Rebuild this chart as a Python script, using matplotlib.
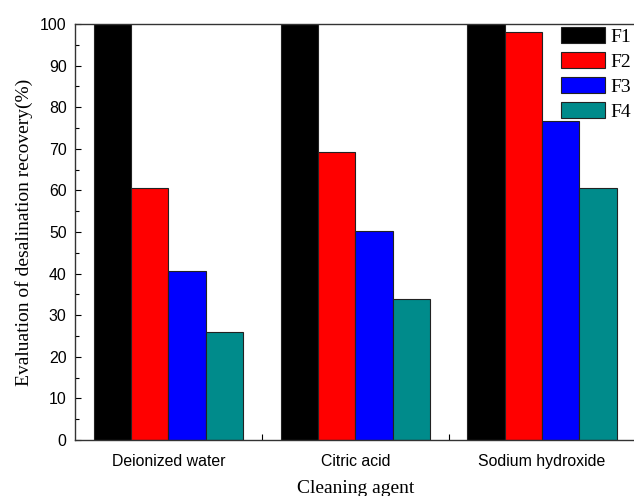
import matplotlib
matplotlib.use("Agg")
import matplotlib.pyplot as plt
import numpy as np
from matplotlib.ticker import MultipleLocator, FixedLocator

categories = ["Deionized water", "Citric acid", "Sodium hydroxide"]
series_names = ["F1", "F2", "F3", "F4"]
F1 = [100, 100, 100]
F2 = [60.6, 69.3, 98.0]
F3 = [40.6, 50.2, 76.7]
F4 = [25.9, 33.9, 60.6]
colors = ["#000000", "#FF0000", "#0000FF", "#008B8B"]

fig = plt.figure(figsize=(6.34, 4.96), dpi=100)
ax = fig.add_axes([0.1183, 0.1129, 0.8841, 0.8387])

x = np.arange(1, len(categories) + 1)
w = 0.2
for i, (name, vals) in enumerate(zip(series_names, [F1, F2, F3, F4])):
    ax.bar(x + (i - 1.5) * w, vals, width=w, color=colors[i],
           edgecolor="#222222", linewidth=0.8, label=name)

ax.set_xlim(0.5, 3.5)
ax.set_ylim(0, 100)
ax.set_xticks(x)
ax.set_xticklabels(categories, fontfamily="Liberation Sans", fontsize=11.4)
ax.xaxis.set_minor_locator(FixedLocator([1.5, 2.5]))
ax.tick_params(axis="x", which="major", length=0, pad=10)
ax.tick_params(axis="x", which="minor", direction="in", length=4, width=0.8)
ax.yaxis.set_major_locator(MultipleLocator(10))
ax.yaxis.set_minor_locator(MultipleLocator(5))
ax.tick_params(axis="y", which="major", direction="in", length=4, width=0.8, pad=6)
ax.tick_params(axis="y", which="minor", direction="in", length=3, width=0.8)
for lab in ax.get_yticklabels():
    lab.set_fontfamily("Liberation Sans")
    lab.set_fontsize(11.4)

for s in ax.spines.values():
    s.set_color("#333333")
    s.set_linewidth(1.0)
ax.spines["right"].set_visible(False)

ax.set_ylabel("Evaluation of desalination recovery(%)", fontfamily="Liberation Serif",
              fontsize=14, labelpad=5)
ax.set_xlabel("Cleaning agent", fontfamily="Liberation Serif", fontsize=14, labelpad=8)

ax.legend(loc="upper right", bbox_to_anchor=(631 / 634, 1 - 27 / 496),
          bbox_transform=fig.transFigure, frameon=False,
          prop={"family": "Liberation Serif", "size": 14},
          handlelength=2.3, handleheight=0.88, handletextpad=0.25, labelspacing=0.33,
          borderaxespad=0, borderpad=0)

fig.savefig("out.png", dpi=100, facecolor="white")
